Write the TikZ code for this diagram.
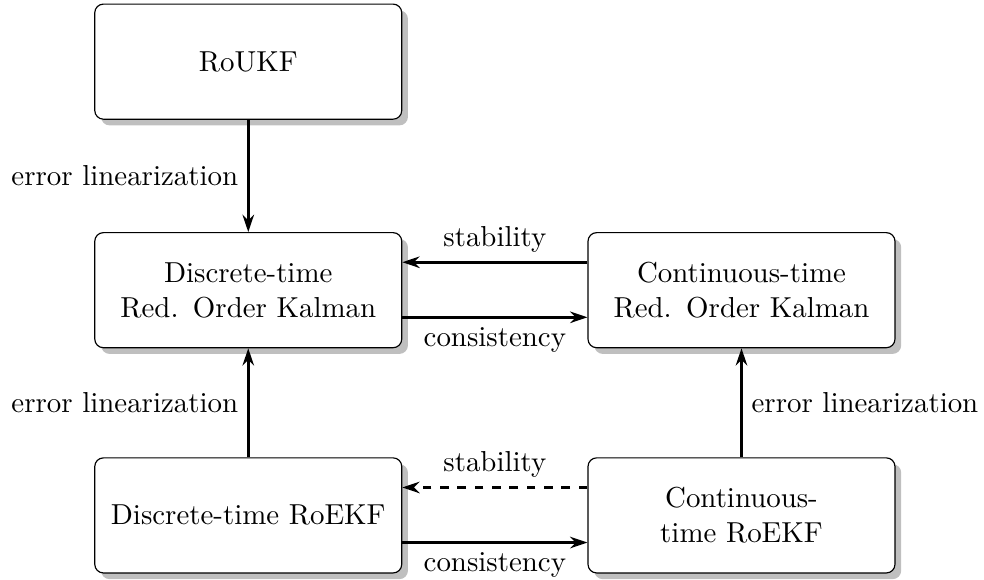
\documentclass[tikz,border=0pt]{standalone}
\usepackage{tikz}
\usetikzlibrary{arrows.meta,positioning,shadows}

\begin{document}
\begin{tikzpicture}[
    >={Stealth[length=2.1mm,width=1.4mm]},
    filter/.style={draw=black, fill=white, rounded corners=3pt,
                   text width=3.5cm, align=center,
                   minimum height=1.4cm, drop shadow},
    lab/.style={inner sep=3pt},
    e/.style={->, line width=1pt},
  ]
    \useasboundingbox (0,0) rectangle (11.97,7.05);
    % --- unscented filter --------------------------------------------------
    \node[filter] (ukf) at (3.02,6.30) {RoUKF};
    % --- reduced order Kalman ---------------------------------------------
    \node[filter] (dk)  at (3.02,3.52) {Discrete-time\\Red. Order Kalman};
    \node[filter] (ck)  at (9.02,3.52) {Continuous-time\\Red. Order Kalman};
    % --- extended filters ---------------------------------------------------
    \node[filter] (dekf) at (3.02,0.78) {Discrete-time RoEKF};
    \node[filter] (cekf) at (9.02,0.78) {Continuous-time RoEKF};
    % --- edges ------------------------------------------------------------
    \draw[e] (ukf) -- (dk) node[lab, midway, left]{error linearization};
    \draw[e] ([yshift=0.34cm]ck.west) -- ([yshift=0.34cm]dk.east)
          node[lab, midway, above]{stability};
    \draw[e] ([yshift=-0.33cm]dk.east) -- ([yshift=-0.33cm]ck.west)
          node[lab, midway, below]{consistency};
    \draw[e] (dekf) -- (dk) node[lab, midway, left]{error linearization};
    \draw[e] (cekf) -- (ck) node[lab, midway, right]{error linearization};
    \draw[e, dashed] ([yshift=0.34cm]cekf.west) -- ([yshift=0.34cm]dekf.east)
          node[lab, midway, above]{stability};
    \draw[e] ([yshift=-0.33cm]dekf.east) -- ([yshift=-0.33cm]cekf.west)
          node[lab, midway, below]{consistency};
  \end{tikzpicture}
\end{document}
